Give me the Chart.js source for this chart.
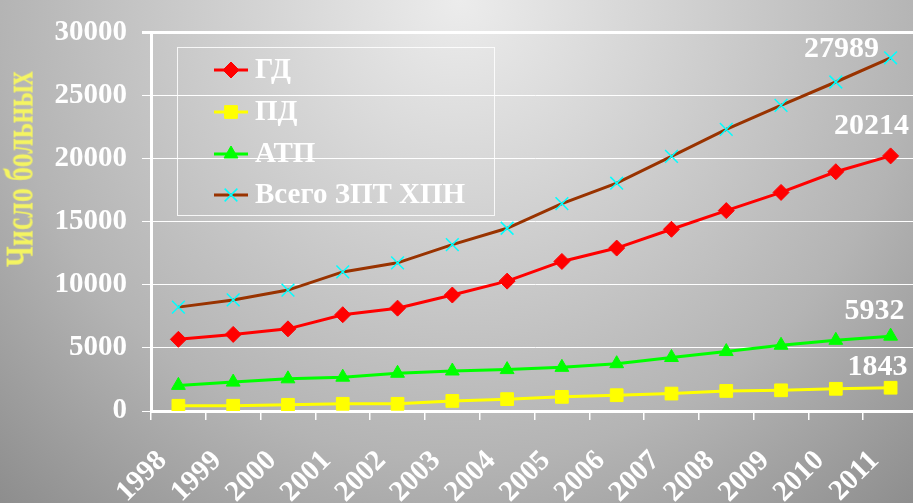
<!DOCTYPE html>
<html>
<head>
<meta charset="utf-8">
<script src="https://cdn.jsdelivr.net/npm/chart.js@4/dist/chart.umd.min.js"></script>
<style>
    html, body { margin: 0; padding: 0; overflow: hidden; }
    body {
        width: 913px;
        height: 503px;
        position: relative;
        background: radial-gradient(circle at 460px 0px, #ececec 0px, #b4b4b4 460px, #8a8a8a 700px);
    }
    #grafico { position: absolute; left: 0; top: 0; }
    #titulo {
        position: absolute;
        left: 20px;
        top: 169px;
        transform: translate(-50%, -50%) rotate(-90deg) scaleY(1.4);
        white-space: nowrap;
        font: bold 28px "Liberation Serif", serif;
        color: #f4f462;
    }
</style>
</head>
<body>
<canvas id="grafico" width="918" height="503"></canvas>
<div id="titulo">Число больных</div>
<script>
// Dados
var anos = ['1998', '1999', '2000', '2001', '2002', '2003', '2004', '2005', '2006', '2007', '2008', '2009', '2010', '2011'];
var nomes = ['ГД', 'ПД', 'АТП', 'Всего ЗПТ ХПН'];
var gd = [5680, 6070, 6510, 7630, 8150, 9190, 10290, 11850, 12910, 14400, 15880, 17320, 18960, 20214];
var pd = [415, 415, 490, 570, 570, 800, 940, 1120, 1250, 1380, 1590, 1640, 1760, 1843];
var atp = [2030, 2290, 2550, 2680, 2990, 3170, 3280, 3460, 3750, 4240, 4710, 5210, 5600, 5932];
var total = [8230, 8800, 9580, 11020, 11740, 13180, 14480, 16430, 18050, 20180, 22320, 24220, 26070, 27989];
var ticksY = [0, 5000, 10000, 15000, 20000, 25000, 30000];

var fonte = '"Liberation Serif", serif';

// deslocamento dos rótulos do último ponto (x, y)
var deslocRotulos = [[-19, -30], [-13, -20], [-16, -25], [-49, -9]];

// legenda desenhada dentro do gráfico, com linha + marcador
var legendaPlugin = {
    id: 'legenda',
    afterDraw: function(chart) {
        var ctx = chart.ctx;
        var linhasY = [70, 112, 154, 195];
        ctx.save();
        ctx.strokeStyle = 'rgba(255,255,255,0.85)';
        ctx.lineWidth = 1;
        ctx.strokeRect(177.5, 47.5, 317, 168);
        chart.data.datasets.forEach(function(ds, i) {
            var y = linhasY[i];
            ctx.strokeStyle = ds.borderColor;
            ctx.lineWidth = 3;
            ctx.beginPath();
            ctx.moveTo(214, y);
            ctx.lineTo(248, y);
            ctx.stroke();
            ctx.fillStyle = ds.pointBackgroundColor;
            ctx.strokeStyle = ds.pointBorderColor;
            ctx.lineWidth = ds.pointBorderWidth;
            Chart.helpers.drawPoint(ctx, {
                pointStyle: ds.pointStyle,
                radius: ds.pointRadius,
                borderWidth: ds.pointBorderWidth,
                rotation: 0
            }, 231, y);
            ctx.fillStyle = '#ffffff';
            ctx.font = 'bold 29px ' + fonte;
            ctx.textAlign = 'left';
            ctx.textBaseline = 'middle';
            ctx.fillText(nomes[i], 255, y + 1);
        });
        ctx.restore();
    }
};

// valores escritos ao lado do último ano
var rotulosPlugin = {
    id: 'rotulos',
    afterDatasetsDraw: function(chart) {
        var ctx = chart.ctx;
        ctx.save();
        ctx.font = 'bold 30px ' + fonte;
        ctx.fillStyle = '#ffffff';
        ctx.textAlign = 'center';
        ctx.textBaseline = 'middle';
        chart.data.datasets.forEach(function(ds, i) {
            var pts = chart.getDatasetMeta(i).data;
            var p = pts[pts.length - 1];
            var valor = ds.data[ds.data.length - 1];
            ctx.fillText(String(valor), p.x + deslocRotulos[i][0], p.y + deslocRotulos[i][1]);
        });
        ctx.restore();
    }
};

new Chart(document.getElementById('grafico'), {
    type: 'line',
    data: {
        labels: anos,
        datasets: [
            { label: nomes[0], data: gd, borderColor: '#ff0000', borderWidth: 3,
              pointStyle: 'rectRot', pointRadius: 8, pointBackgroundColor: '#ff0000', pointBorderColor: '#ff0000', pointBorderWidth: 1 },
            { label: nomes[1], data: pd, borderColor: '#ffff00', borderWidth: 3,
              pointStyle: 'rect', pointRadius: 9, pointBackgroundColor: '#ffff00', pointBorderColor: '#ffff00', pointBorderWidth: 1 },
            { label: nomes[2], data: atp, borderColor: '#00ff00', borderWidth: 3,
              pointStyle: 'triangle', pointRadius: 8, pointBackgroundColor: '#00ff00', pointBorderColor: '#00ff00', pointBorderWidth: 1 },
            { label: nomes[3], data: total, borderColor: '#993300', borderWidth: 3,
              pointStyle: 'crossRot', pointRadius: 9, pointBackgroundColor: '#00ffff', pointBorderColor: '#00ffff', pointBorderWidth: 1.5 }
        ]
    },
    options: {
        responsive: false,
        animation: false,
        layout: { autoPadding: false, padding: { top: 27, left: 0, right: 0, bottom: 0 } },
        plugins: {
            legend: { display: false },
            tooltip: { enabled: false }
        },
        scales: {
            x: {
                offset: true,
                grid: { offset: true, drawOnChartArea: false, color: '#ffffff', tickLength: 9, lineWidth: 1.5 },
                border: { color: '#ffffff', width: 3 },
                ticks: {
                    color: '#ffffff',
                    font: { family: fonte, weight: 'bold', size: 29 },
                    minRotation: 45,
                    maxRotation: 45,
                    autoSkip: false,
                    padding: 24,
                    labelOffset: -16
                },
                afterFit: function(s) {
                    s.height = 92;
                    s.paddingLeft = 0;
                    s.paddingRight = 0;
                }
            },
            y: {
                min: 0,
                max: 30000,
                afterBuildTicks: function(s) {
                    s.ticks = ticksY.map(function(v) { return { value: v }; });
                },
                ticks: {
                    color: '#ffffff',
                    font: { family: fonte, weight: 'bold', size: 29 },
                    padding: 15,
                    callback: function(v) { return String(v); }
                },
                grid: {
                    color: '#ffffff',
                    tickLength: 9,
                    lineWidth: function(c) { return c.tick && c.tick.value === 30000 ? 3 : 1; }
                },
                border: { color: '#ffffff', width: 3 },
                afterFit: function(s) { s.width = 151; }
            }
        }
    },
    plugins: [legendaPlugin, rotulosPlugin]
});
</script>
</body>
</html>
